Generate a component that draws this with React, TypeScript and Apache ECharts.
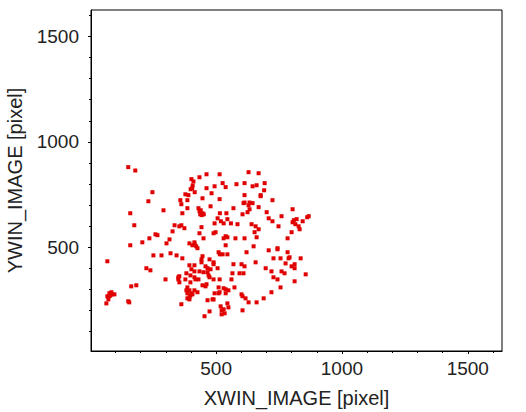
import React, { useEffect, useRef } from "react";
import * as echarts from "echarts";

// Data (XWIN_IMAGE, YWIN_IMAGE in pixels)
const sourcesXY: [number, number][] = [
  [151, 880], [179, 864],
  [402, 823], [434, 832], [462, 846], [514, 846], [629, 856], [669, 851],
  [410, 812], [407, 793], [526, 804], [581, 799], [613, 804], [693, 804],
  [399, 775], [405, 780], [462, 780], [494, 789], [538, 785], [645, 789], [661, 794], [691, 770],
  [247, 761], [415, 761], [378, 751], [390, 747], [482, 756], [613, 747], [677, 747], [677, 742],
  [231, 718], [358, 723], [386, 723], [446, 732], [514, 728], [724, 723],
  [362, 704], [478, 694], [609, 709], [613, 712], [633, 712], [645, 709], [629, 699], [669, 690],
  [386, 685], [430, 685], [569, 685], [633, 680], [804, 680],
  [291, 675], [434, 671], [439, 675], [446, 661], [451, 656], [515, 661], [541, 661], [625, 666], [701, 666],
  [159, 661], [366, 661], [437, 656], [443, 652], [605, 656],
  [760, 647], [709, 637], [506, 637], [545, 633], [519, 623], [724, 623], [809, 628], [820, 633], [844, 623], [862, 642], [868, 647],
  [494, 613], [530, 613], [559, 613], [585, 609], [641, 609], [748, 599], [804, 618], [815, 609], [828, 599], [832, 585], [657, 599], [669, 585],
  [175, 604], [335, 604], [354, 599], [362, 604], [374, 590], [442, 595], [800, 571],
  [327, 575], [434, 566], [490, 566], [498, 571], [653, 571], [259, 561], [267, 557],
  [235, 542], [315, 537], [450, 542], [530, 542], [545, 547], [538, 552], [577, 542], [613, 542], [661, 547], [784, 542],
  [207, 523], [303, 518], [394, 518], [414, 523], [406, 509], [415, 514], [421, 504], [426, 495], [538, 509], [649, 504],
  [159, 509], [709, 485], [744, 495], [744, 490], [621, 476], [510, 476], [515, 466], [526, 466], [545, 466], [784, 476],
  [319, 471], [251, 461], [283, 461], [343, 461], [446, 457], [366, 447], [442, 442], [474, 442], [728, 447], [756, 447], [792, 452], [788, 447], [836, 447],
  [68, 433], [442, 428], [490, 428], [490, 419], [569, 419], [601, 419], [657, 428], [776, 423], [812, 419], [800, 409],
  [394, 414], [414, 414], [458, 409], [466, 400], [478, 395], [506, 400], [613, 409], [697, 400], [812, 400],
  [223, 400], [239, 390], [402, 395], [414, 385], [434, 385], [450, 381], [466, 381], [382, 376], [398, 366], [565, 376], [593, 376], [609, 376], [720, 385], [760, 385], [772, 376],
  [299, 347], [350, 357], [354, 362], [350, 347], [354, 333], [378, 347], [398, 333], [414, 357], [418, 347], [430, 347], [474, 357], [470, 366], [490, 347], [514, 347], [561, 347], [728, 357], [744, 347], [812, 338], [856, 371],
  [64, 233], [72, 252], [68, 267], [76, 281], [80, 271], [84, 286], [88, 276], [96, 276], [76, 267],
  [151, 243], [155, 238], [163, 314], [183, 319],
  [386, 309], [446, 319], [458, 314], [462, 324], [510, 309], [530, 305], [538, 300], [549, 295], [573, 309], [756, 309],
  [382, 295], [394, 295], [426, 286], [414, 295], [386, 281], [402, 281], [398, 271], [394, 262], [406, 276], [386, 257], [394, 252], [494, 281], [510, 281], [514, 286], [538, 281], [720, 286],
  [466, 248], [486, 252], [490, 252], [601, 276], [605, 267], [617, 257], [689, 257],
  [362, 229], [545, 233], [629, 238], [661, 238], [518, 219], [549, 214], [522, 200], [530, 205], [522, 181], [534, 186], [474, 195], [605, 200], [454, 172],
];

const xRange = [3, 1636];
const yRange = [7, 1626];
const majorTicks = [500, 1000, 1500];
const minorTicks = [100, 200, 300, 400, 600, 700, 800, 900, 1100, 1200, 1300, 1400, 1600];

const FONT = "Liberation Sans";
const TEXT = "#222";

export default function App() {
  const ref = useRef<HTMLDivElement>(null);
  useEffect(() => {
    if (!ref.current) return;
    const chart = echarts.init(ref.current, null, { renderer: "svg" });
    const labelStyle = {
      fontFamily: FONT,
      fontSize: 19,
      color: TEXT,
      formatter: (v: number) => String(v),
    };
    const minorAxisCommon = {
      type: "value" as const,
      axisLine: { show: false },
      axisLabel: { show: false },
      splitLine: { show: false },
    };
    chart.setOption({
      animation: false,
      backgroundColor: "#fff",
      grid: {
        left: 91,
        right: 24,
        top: 10,
        bottom: 61,
        containLabel: false,
        outerBoundsMode: "none",
        show: true,
        borderColor: "#000",
        borderWidth: 1,
        backgroundColor: "transparent",
      },
      xAxis: [
        {
          type: "value",
          position: "bottom",
          min: xRange[0],
          max: xRange[1],
          name: "XWIN_IMAGE [pixel]",
          nameLocation: "middle",
          nameGap: 37,
          nameTextStyle: { fontFamily: FONT, fontSize: 20, color: TEXT },
          axisLine: { show: true, lineStyle: { color: "#000", width: 1 } },
          axisTick: { show: true, inside: false, length: 3, customValues: majorTicks, lineStyle: { color: "#000" } },
          axisLabel: { ...labelStyle, margin: 8, customValues: majorTicks },
          splitLine: { show: false },
        },
        {
          ...minorAxisCommon,
          position: "bottom",
          offset: 0,
          min: xRange[0],
          max: xRange[1],
          axisTick: { show: true, inside: false, length: 2, customValues: minorTicks, lineStyle: { color: "#000" } },
        },
      ],
      yAxis: [
        {
          type: "value",
          position: "left",
          min: yRange[0],
          max: yRange[1],
          name: "YWIN_IMAGE [pixel]",
          nameLocation: "middle",
          nameGap: 66,
          nameTextStyle: { fontFamily: FONT, fontSize: 20, color: TEXT },
          axisLine: { show: true, lineStyle: { color: "#000", width: 1 } },
          axisTick: { show: true, inside: false, length: 3, customValues: majorTicks, lineStyle: { color: "#000" } },
          axisLabel: { ...labelStyle, margin: 12, customValues: majorTicks },
          splitLine: { show: false },
        },
        {
          ...minorAxisCommon,
          position: "left",
          offset: 0,
          min: yRange[0],
          max: yRange[1],
          axisTick: { show: true, inside: false, length: 2, customValues: minorTicks, lineStyle: { color: "#000" } },
        },
      ],
      series: [
        {
          type: "scatter",
          xAxisIndex: 0,
          yAxisIndex: 0,
          data: sourcesXY,
          symbol: "rect",
          symbolSize: 4,
          itemStyle: { color: "#e00000", opacity: 1 },
        },
      ],
    });
    return () => chart.dispose();
  }, []);
  return (
    <div
      ref={ref}
      style={{ position: "fixed", left: 0, top: 0, width: 526, height: 412 }}
    />
  );
}
